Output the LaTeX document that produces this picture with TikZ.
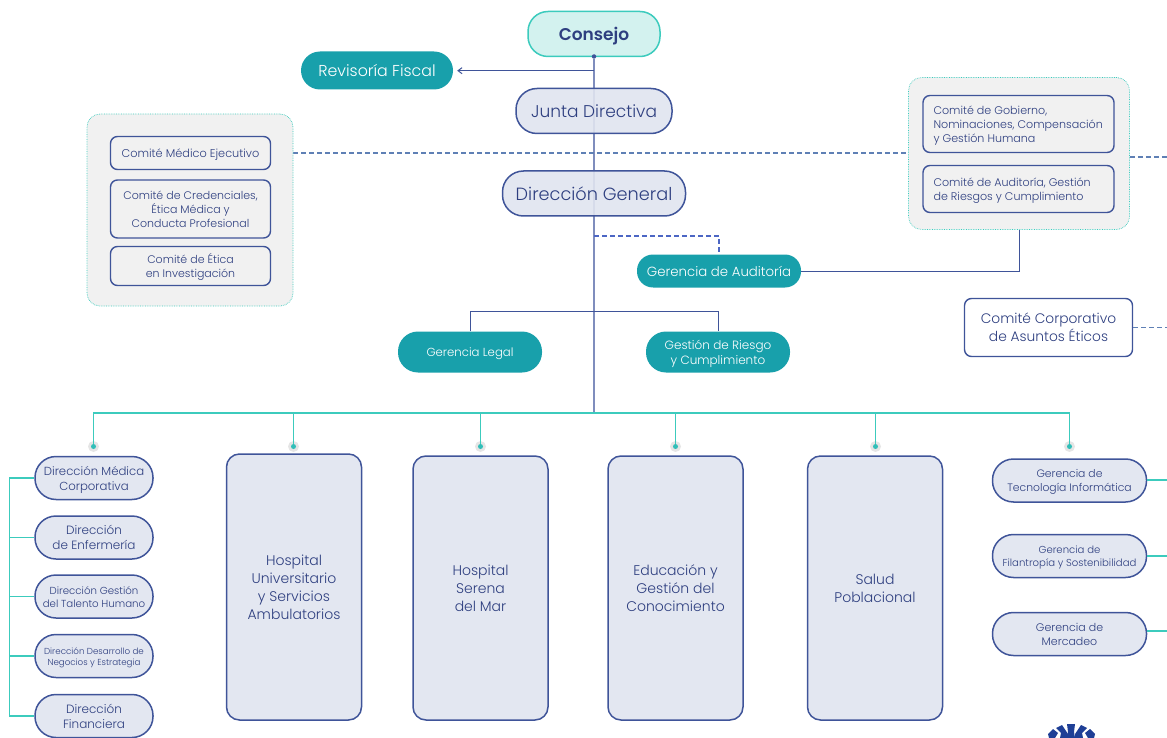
\documentclass[tikz,border=0pt]{standalone}
\usepackage{fontspec}
\setmainfont{Poppins Light}
\newfontfamily\boldf{Poppins SemiBold}
\usetikzlibrary{backgrounds,arrows.meta}
\definecolor{navy}{HTML}{3F5499}
\definecolor{ink}{HTML}{2E3F80}
\definecolor{pale}{HTML}{E0E4EF}
\definecolor{teal}{HTML}{18A0AB}
\definecolor{mint}{HTML}{3CCBBD}
\definecolor{mintf}{HTML}{D3F2EF}
\definecolor{panel}{HTML}{F1F1F1}
\definecolor{dash}{HTML}{5F80B5}
\definecolor{trunk}{HTML}{7F8DBD}
\definecolor{logoblue}{HTML}{1F3F96}
\newcommand\fsz[1]{\fontsize{#1}{\dimexpr#1pt*128/100\relax}\selectfont}
\newcommand\tx[1]{\vbox{\kern\dimexpr1pt+.2em\relax\hbox{\begin{tabular}{@{}c@{}}#1\end{tabular}}}}
\newcommand\txl[1]{\vbox{\kern\dimexpr1pt+.2em\relax\hbox{\makebox[170pt][l]{\begin{tabular}{@{}l@{}}#1\end{tabular}}}}}
\tikzset{
  x=1pt,y=-1pt,
  base/.style={inner sep=0pt,text=ink,font=\fsz{#1}},
  pill/.style={base=#1,draw=navy,line width=1.5pt,fill=pale,fill opacity=.9,text opacity=1,rounded corners=21pt},
  rbox/.style={base=#1,draw=navy,line width=1.5pt,fill=pale,fill opacity=.9,text opacity=1,rounded corners=13pt},
  tealpill/.style={base=#1,fill=teal,text=white,rounded corners=19pt},
  cbox/.style={base=#1,draw=navy,line width=1.4pt,fill=panel,rounded corners=7pt},
  panelbox/.style={draw=mint,densely dotted,line width=.7pt,fill=panel,rounded corners=13pt},
  trunkline/.style={draw=trunk,line width=1.5pt},
  mintline/.style={draw=mint,line width=1.2pt},
  thinline/.style={draw=navy,line width=1pt},
  dashline/.style={draw=dash,line width=1.2pt,dash pattern=on 5pt off 3pt},
  dotn/.style={circle,fill=#1,minimum size=5pt,inner sep=0pt},
}
\begin{document}
\begin{tikzpicture}
\useasboundingbox (0,0) rectangle (1167,738);
\clip (0,0) rectangle (1167,738);
% panels
\node[panelbox,minimum width=206,minimum height=192] (pl) at (190,210) {};
\node[panelbox,minimum width=221,minimum height=152] (pr) at (1019,153.5) {};
% top
\node[base=17,draw=mint,line width=1.5pt,fill=mintf,rounded corners=20pt,minimum width=132,minimum height=45,text=ink] (consejo) at (594,34) {\tx{\boldf Consejo}};
\node[tealpill=15.8,minimum width=152,minimum height=38] (revisoria) at (377,70.5) {\tx{Revisoría Fiscal}};
\node[pill=17,minimum width=156,minimum height=45] (junta) at (594,111) {\tx{Junta Directiva}};
\node[pill=17.7,minimum width=183,minimum height=45] (direccion) at (594,193.5) {\tx{Dirección General}};
\node[tealpill=13.3,rounded corners=16pt,minimum width=164,minimum height=33] (auditoria) at (719,271) {\tx{Gerencia de Auditoría}};
\node[tealpill=11.7,rounded corners=20pt,minimum width=144,minimum height=41] (legal) at (470,352) {\tx{Gerencia Legal}};
\node[tealpill=12,rounded corners=20pt,minimum width=144,minimum height=41] (riesgo) at (718,352) {\tx{Gestión de Riesgo\\y Cumplimiento}};
% left committees
\node[cbox=11.3,minimum width=160,minimum height=33] (c1) at (190.5,153) {\tx{Comité Médico Ejecutivo}};
\node[cbox=11,minimum width=160,minimum height=58] (c2) at (190.5,209) {\tx{Comité de Credenciales,\\Ética Médica y\\Conducta Profesional}};
\node[cbox=11,minimum width=160,minimum height=39] (c3) at (190.5,266) {\tx{Comité de Ética\\en Investigación}};
% right committees
\node[cbox=11.1,minimum width=191,minimum height=57] (c4) at (1018.5,124) {\txl{Comité de Gobierno,\\Nominaciones, Compensación\\y Gestión Humana}};
\node[cbox=11.1,minimum width=191,minimum height=47] (c5) at (1018.5,189) {\txl{Comité de Auditoría, Gestión\\de Riesgos y Cumplimiento}};
\node[base=13.8,draw=navy,line width=1.4pt,fill=white,rounded corners=7pt,minimum width=168,minimum height=58] (c6) at (1048.5,327.5) {\tx{Comité Corporativo\\de Asuntos Éticos}};
% big columns
\node[rbox=14,minimum width=135,minimum height=266] (h1) at (294,587) {\tx{Hospital\\Universitario\\y Servicios\\Ambulatorios}};
\node[rbox=14,minimum width=135,minimum height=264] (h2) at (480.5,588) {\tx{Hospital\\Serena\\del Mar}};
\node[rbox=14,minimum width=135,minimum height=264] (h3) at (675.5,588) {\tx{Educación y\\Gestión del\\Conocimiento}};
\node[rbox=14,minimum width=135,minimum height=264] (h4) at (875,588) {\tx{Salud\\Poblacional}};
% left column
\node[pill=11.7,minimum width=118,minimum height=43] (d1) at (94,478) {\tx{Dirección Médica\\Corporativa}};
\node[pill=12,minimum width=118,minimum height=43] (d2) at (94,537.5) {\tx{Dirección\\de Enfermería}};
\node[pill=10.2,minimum width=118,minimum height=43] (d3) at (94,596.5) {\tx{Dirección Gestión\\del Talento Humano}};
\node[pill=8.7,minimum width=118,minimum height=43] (d4) at (94,656) {\tx{Dirección Desarrollo de\\Negocios y Estrategia}};
\node[pill=12,minimum width=118,minimum height=43] (d5) at (94,716) {\tx{Dirección\\Financiera}};
% right column
\node[pill=10.8,minimum width=154,minimum height=43] (g1) at (1069.5,480.5) {\tx{Gerencia de\\Tecnología Informática}};
\node[pill=10.1,minimum width=154,minimum height=43] (g2) at (1069.5,556) {\tx{Gerencia de\\Filantropía y Sostenibilidad}};
\node[pill=11,minimum width=154,minimum height=43] (g3) at (1069.5,634) {\tx{Gerencia de\\Mercadeo}};
% free ends and junctions
\coordinate (j) at (594,413);
\coordinate (rev) at (594,70.7);
\coordinate (ja) at (594,236);
\coordinate (jb) at (719,236);
\coordinate (jl) at (594,311);
\coordinate (e1) at (1167,157);
\coordinate (e2) at (1167,327.5);
\coordinate (e3) at (1167,480);
\coordinate (e4) at (1167,556);
\coordinate (e5) at (1167,631);
\coordinate (rail) at (9.5,478);
\node[dotn=navy,minimum size=4.5pt] (cd) at (594,56.5) {};
\foreach \n/\x in {t1/93.5,t2/293.5,t3/480.5,t4/675.5,t5/875.5,t6/1069.5}{
  \fill[black!10] (\x,446.5) circle (5.5);
  \node[dotn=mint!70!teal] (\n) at (\x,446.5) {};
}
\begin{scope}[on background layer]
\draw[trunkline] (cd) -- (j);
\end{scope}
\draw[thinline,shorten >=4pt,-{Straight Barb[length=4pt,width=6pt]}] (rev) -- (revisoria.east |- rev);
\draw[thinline] (legal.north) -- (jl -| legal) -- (jl -| riesgo) -- (riesgo.north);
\draw[dashline,draw=dash!80!blue,line width=1.1pt] (ja) -- (jb) -- (auditoria.north);
\draw[thinline] (auditoria.east) -| (pr.south);
\begin{scope}[on background layer]
\draw[dashline] (pl.east |- c1) -- (pr.west |- c1);
\end{scope}
\draw[dashline] (pr.east |- e1) -- (e1);
\draw[dashline] (c6.east) -- (e2);
\draw[mintline] (t1) -- (t1 |- j) -- (t6 |- j) -- (t6);
\foreach \n in {t2,t3,t4,t5}{\draw[mintline] (\n |- j) -- (\n);}
\draw[mintline] (d1.west) -- (rail) -- (rail |- d5) -- (d5.west);
\foreach \n in {d2,d3,d4}{\draw[mintline] (rail |- \n) -- (\n.west);}
\draw[mintline] (g1.east |- e3) -- (e3);
\draw[mintline] (g2.east |- e4) -- (e4);
\draw[mintline] (g3.east |- e5) -- (e5);
% logo
\fill[logoblue] (1048,734) -- (1053,729) -- (1058,733) -- (1055,738) -- (1049,738) -- cycle;
\fill[logoblue] (1056,728) -- (1062,725) -- (1068,734) -- (1068,738) -- (1060,738) -- (1061,733) -- cycle;
\fill[logoblue] (1067,724) -- (1075,724) -- (1074,732) -- (1075,738) -- (1067,738) -- (1068,732) -- cycle;
\fill[logoblue] (1087,728) -- (1081,725) -- (1075,734) -- (1075,738) -- (1083,738) -- (1082,733) -- cycle;
\fill[logoblue] (1095,734) -- (1090,729) -- (1085,733) -- (1088,738) -- (1094,738) -- cycle;
\end{tikzpicture}
\end{document}
